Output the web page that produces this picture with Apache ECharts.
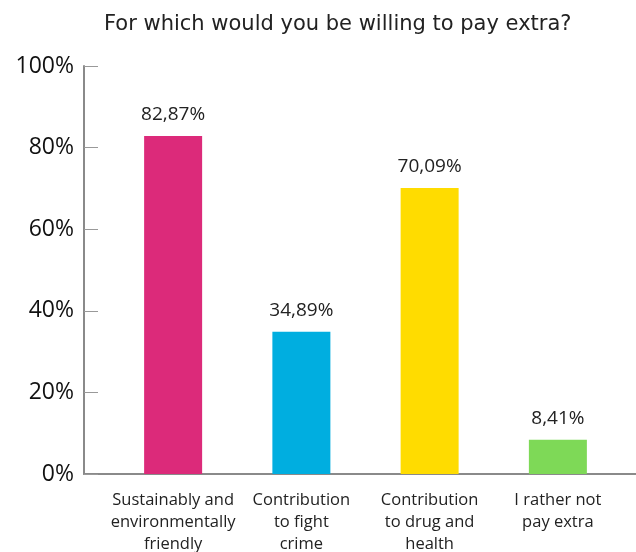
<!DOCTYPE html>
<html><head><meta charset="utf-8">
<script src="https://cdn.jsdelivr.net/npm/echarts@6/dist/echarts.min.js"></script>
<style>html,body{margin:0;padding:0;background:#fff}#c{width:636px;height:552px}</style>
</head><body><div id="c"></div>
<script>
const titleText = 'For which would you be willing to pay extra?';
const categories = ['Sustainably and\nenvironmentally\nfriendly', 'Contribution\nto fight\ncrime', 'Contribution\nto drug and\nhealth', 'I rather not\npay extra'];
const values = [82.87, 34.89, 70.09, 8.41];
const valueLabels = ['82,87%', '34,89%', '70,09%', '8,41%'];
const colors = ['#dc2a7a', '#00aee0', '#ffdc00', '#7ed957'];
const yTicks = [0, 20, 40, 60, 80, 100];

const chart = echarts.init(document.getElementById('c'));
chart.setOption({
  animation: false,
  title: { text: titleText, left: 99, top: 9,
    textStyle: { fontFamily: 'DejaVu Sans', fontWeight: 'normal', fontSize: 21, color: '#222' } },
  grid: [
    { left: 84, right: 0, top: 66, bottom: 78, containLabel: false, outerBoundsMode: 'none' },
    { left: 109, right: 14, top: 66, bottom: 78, containLabel: false, outerBoundsMode: 'none' }
  ],
  xAxis: [
    { type: 'category', gridIndex: 0, data: categories,
      axisLine: { lineStyle: { color: '#8a8a8a', width: 2 } }, axisTick: { show: false }, axisLabel: { show: false } },
    { type: 'category', gridIndex: 1, data: categories,
      axisLine: { show: false }, axisTick: { show: false },
      axisLabel: { interval: 0, margin: 15, fontFamily: 'Open Sans', fontSize: 16.5, lineHeight: 22, color: '#222' } }
  ],
  yAxis: [
    { type: 'value', gridIndex: 0, min: 0, max: 100, interval: 20,
      axisLine: { show: true, lineStyle: { color: '#8a8a8a', width: 2 } },
      axisTick: { show: true, inside: true, length: 14, lineStyle: { color: '#999', width: 1 } },
      splitLine: { show: false },
      axisLabel: { margin: 10, fontFamily: 'Open Sans', fontSize: 23, color: '#111',
        formatter: v => yTicks.includes(v) ? v + '%' : '' } },
    { type: 'value', gridIndex: 1, min: 0, max: 100, show: false }
  ],
  series: [{
    type: 'bar', xAxisIndex: 1, yAxisIndex: 1, barWidth: 58,
    data: values.map((v, i) => ({ value: v, itemStyle: { color: colors[i] } })),
    label: { show: true, position: 'top', distance: 12, fontFamily: 'Open Sans', fontSize: 19, color: '#222',
      formatter: p => valueLabels[p.dataIndex] }
  }]
});
</script></body></html>
